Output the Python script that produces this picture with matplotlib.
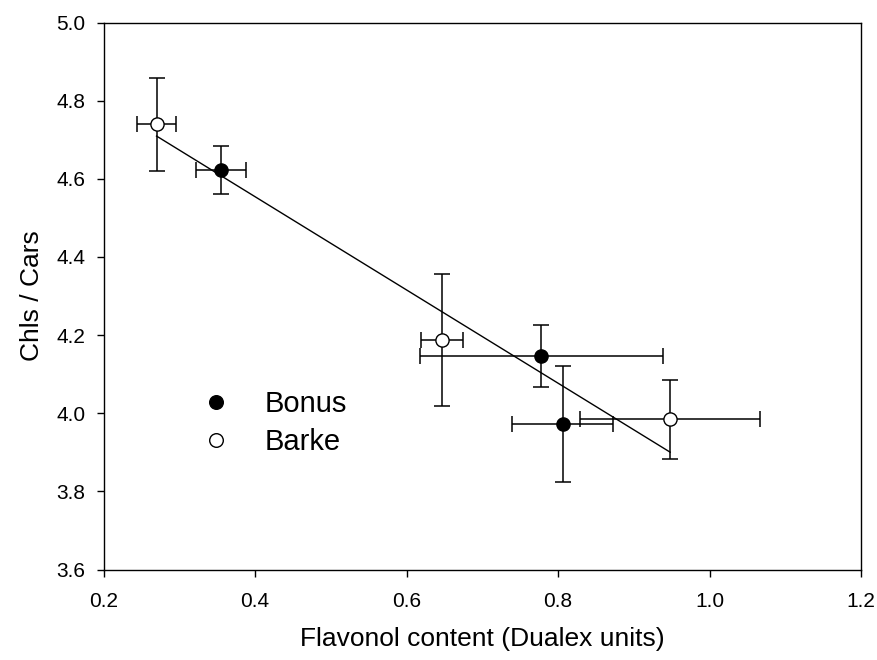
import numpy as np
import matplotlib
matplotlib.use("Agg")
import matplotlib.pyplot as plt
from matplotlib.lines import Line2D

plt.rcParams['font.family'] = ['Liberation Sans', 'DejaVu Sans']

# Bonus (filled symbols)
bonus_x = [0.355, 0.778, 0.806]
bonus_y = [4.622, 4.146, 3.972]
bonus_xerr = [0.033, 0.160, 0.067]
bonus_yerr = [0.061, 0.079, 0.149]

# Barke (open symbols)
barke_x = [0.270, 0.647, 0.948]
barke_y = [4.739, 4.187, 3.984]
barke_xerr = [0.026, 0.028, 0.119]
barke_yerr = [0.119, 0.169, 0.100]

fig = plt.figure(figsize=(8.78, 6.6), dpi=100)
ax = fig.add_axes([0.1179, 0.1371, 0.8628, 0.8288])

# linear regression over both cultivars
all_x = np.array(bonus_x + barke_x)
all_y = np.array(bonus_y + barke_y)
slope, intercept = np.polyfit(all_x, all_y, 1)
xx = np.array([all_x.min(), all_x.max()])
ax.plot(xx, slope * xx + intercept, color='black', lw=1.0, zorder=1)

ebkw = dict(fmt='none', ecolor='black', elinewidth=1.1, capsize=5.5, capthick=1.1, zorder=2)
ax.errorbar(bonus_x, bonus_y, xerr=bonus_xerr, yerr=bonus_yerr, **ebkw)
ax.errorbar(barke_x, barke_y, xerr=barke_xerr, yerr=barke_yerr, **ebkw)

ax.plot(bonus_x, bonus_y, 'o', ms=9.5, mfc='black', mec='black', mew=1.0, zorder=3)
ax.plot(barke_x, barke_y, 'o', ms=9.5, mfc='white', mec='black', mew=1.0, zorder=3)

xticks = np.arange(0.2, 1.21, 0.2)
yticks = np.arange(3.6, 5.01, 0.2)
ax.set_xlim(0.2, 1.2)
ax.set_ylim(3.6, 5.0)
ax.set_xticks(xticks)
ax.set_yticks(yticks)
ax.set_xticklabels([f"{v:.1f}" for v in xticks])
ax.set_yticklabels([f"{v:.1f}" for v in yticks])
ax.tick_params(direction='out', length=5, width=1, labelsize=15)
ax.tick_params(axis='x', pad=11)
ax.tick_params(axis='y', pad=8)
for s in ax.spines.values():
    s.set_linewidth(1.0)

ax.set_xlabel("Flavonol content (Dualex units)", fontsize=19, labelpad=12)
ax.set_ylabel("Chls / Cars", fontsize=19, labelpad=9)

handles = [
    Line2D([], [], ls='none', marker='o', ms=9.8, mfc='black', mec='black'),
    Line2D([], [], ls='none', marker='o', ms=9.8, mfc='white', mec='black'),
]
ax.legend(handles, ["Bonus", "Barke"], loc='center left', bbox_to_anchor=(0.1304, 0.268),
          frameon=False, fontsize=21, handletextpad=1.2, labelspacing=0.35,
          handlelength=0.95, borderpad=0, borderaxespad=0)

fig.savefig("out.png", dpi=100)
